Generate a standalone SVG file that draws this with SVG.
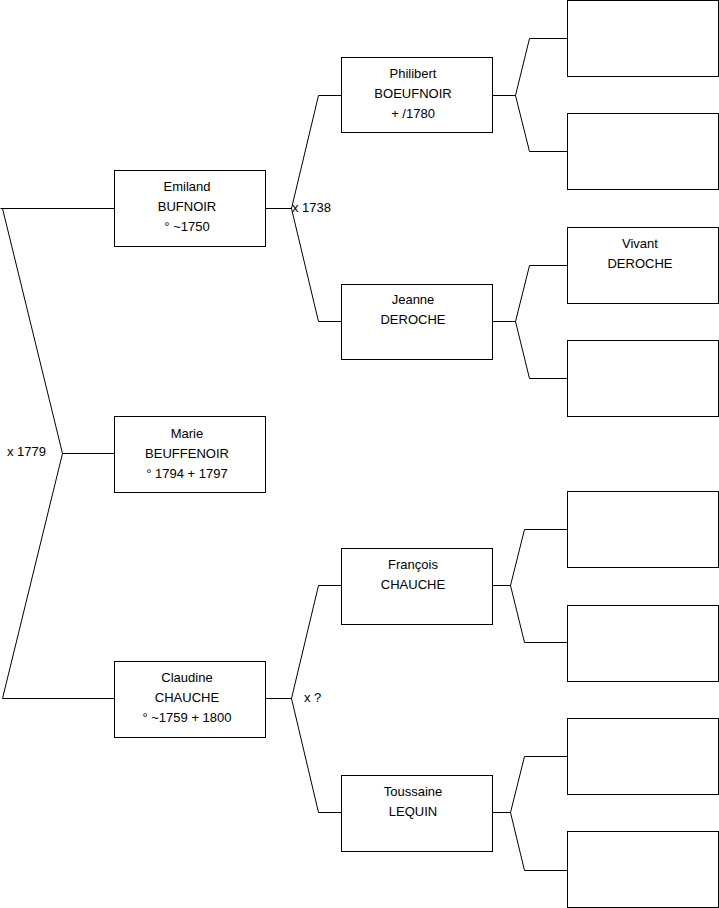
<svg xmlns="http://www.w3.org/2000/svg" width="719" height="908" viewBox="0 0 719 908">
<style>
.box{fill:#fff;stroke:#000;stroke-width:1}
.ln{fill:none;stroke:#000;stroke-width:1}
text{font-family:"Liberation Sans",Arial,sans-serif;font-size:13px;fill:#000}
.c{text-anchor:middle}
</style>
<rect width="719" height="908" fill="#fff"/>
<g id="connectors">
<path class="ln" d="M0.5,208.5 H114.5 M2.5,208.5 L62.5,453.5 L2.5,698.5 H114.5 M62.5,453.5 H114.5"/>
<path class="ln" d="M265.5,208.5 H291.5 L318.5,95.5 H341.5 M291.5,208.5 L318.5,321.5 H341.5"/>
<path class="ln" d="M265.5,698.5 H291.5 L318.5,585.5 H341.5 M291.5,698.5 L318.5,812.5 H341.5"/>
<path class="ln" d="M492.5,95.5 H515.5 L529.5,38.5 H567.5 M515.5,95.5 L529.5,151.5 H567.5"/>
<path class="ln" d="M492.5,321.5 H515.5 L529.5,265.5 H567.5 M515.5,321.5 L529.5,378.5 H567.5"/>
<path class="ln" d="M492.5,585.5 H510.5 L524.5,529.5 H567.5 M510.5,585.5 L524.5,642.5 H567.5"/>
<path class="ln" d="M492.5,812.5 H510.5 L524.5,756.5 H567.5 M510.5,812.5 L524.5,870.5 H567.5"/>
<text x="7" y="456">x 1779</text>
<text x="292" y="212">x 1738</text>
<text x="304" y="702">x ?</text>
</g>
<g id="emiland"><rect class="box" x="114.5" y="170.5" width="151" height="76"/>
<text class="c" x="187" y="191">Emiland</text><text class="c" x="187" y="211">BUFNOIR</text><text class="c" x="187" y="231">° ~1750</text></g>
<g id="marie"><rect class="box" x="114.5" y="416.5" width="151" height="76"/>
<text class="c" x="187" y="438">Marie</text><text class="c" x="187" y="458">BEUFFENOIR</text><text class="c" x="187" y="478">° 1794 + 1797</text></g>
<g id="claudine"><rect class="box" x="114.5" y="661.5" width="151" height="76"/>
<text class="c" x="187" y="682">Claudine</text><text class="c" x="187" y="702">CHAUCHE</text><text class="c" x="187" y="722">° ~1759 + 1800</text></g>
<g id="philibert"><rect class="box" x="341.5" y="57.5" width="151" height="75"/>
<text class="c" x="413" y="78">Philibert</text><text class="c" x="413" y="98">BOEUFNOIR</text><text class="c" x="413" y="118">+ /1780</text></g>
<g id="jeanne"><rect class="box" x="341.5" y="284.5" width="151" height="75"/>
<text class="c" x="413" y="304">Jeanne</text><text class="c" x="413" y="324">DEROCHE</text></g>
<g id="francois"><rect class="box" x="341.5" y="548.5" width="151" height="76"/>
<text class="c" x="413" y="569">François</text><text class="c" x="413" y="589">CHAUCHE</text></g>
<g id="toussaine"><rect class="box" x="341.5" y="775.5" width="151" height="76"/>
<text class="c" x="413" y="796">Toussaine</text><text class="c" x="413" y="816">LEQUIN</text></g>
<g id="r1"><rect class="box" x="567.5" y="0.5" width="151" height="76"/></g>
<g id="r2"><rect class="box" x="567.5" y="113.5" width="151" height="76"/></g>
<g id="vivant"><rect class="box" x="567.5" y="227.5" width="151" height="76"/>
<text class="c" x="640" y="248">Vivant</text><text class="c" x="640" y="268">DEROCHE</text></g>
<g id="r4"><rect class="box" x="567.5" y="340.5" width="151" height="76"/></g>
<g id="r5"><rect class="box" x="567.5" y="491.5" width="151" height="76"/></g>
<g id="r6"><rect class="box" x="567.5" y="605.5" width="151" height="76"/></g>
<g id="r7"><rect class="box" x="567.5" y="718.5" width="151" height="76"/></g>
<g id="r8"><rect class="box" x="567.5" y="831.5" width="151" height="76"/></g>
</svg>
